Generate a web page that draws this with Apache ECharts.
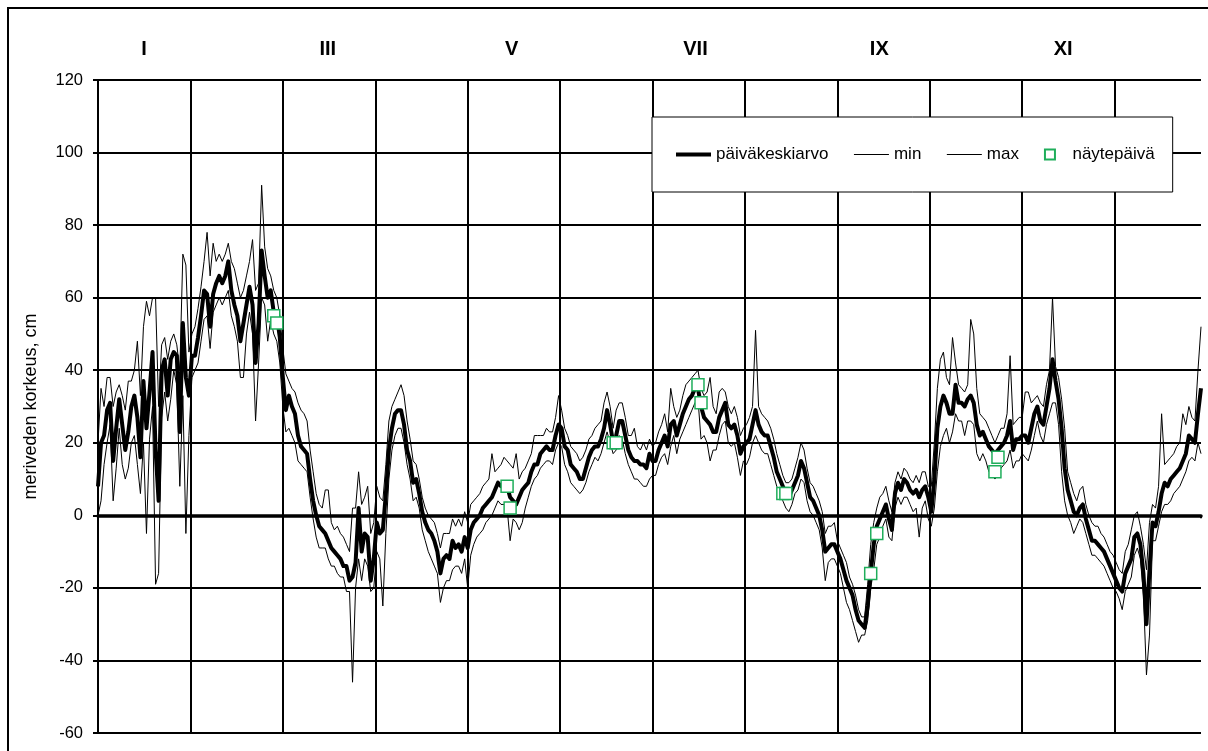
<!DOCTYPE html>
<html>
<head>
<meta charset="utf-8">
<script src="https://cdn.jsdelivr.net/npm/echarts@6/dist/echarts.min.js"></script>
<style>
html,body{margin:0;padding:0;background:#fff;}
#chart{width:1208px;height:751px;}
</style>
</head>
<body>
<div id="chart"></div>
<script>
// Top month labels (only odd months are labelled in the original)
const monthLabels = ['I','','III','','V','','VII','','IX','','XI',''];
const yTicks = [-60,-40,-20,0,20,40,60,80,100,120];

// Daily mean sea level (päiväkeskiarvo), day index 0..364
const meanVals = [
8,20,22,29,31,15,24,32,25,18,
23,30,33,27,16,37,24,34,45,18,
4,40,43,33,43,45,44,23,53,38,
33,44,44,49,55,62,61,52,61,64,
66,64,66,70,62,58,55,48,53,58,
63,58,42,53,73,66,60,62,56,55,
49,38,29,33,30,28,22,19,18,17,
10,4,0,-3,-4,-5,-7,-9,-10,-11,
-12,-14,-14,-18,-17,-13,2,-10,-5,-6,
-18,-12,-2,-5,-4,6,18,24,28,29,
29,25,18,15,9,10,6,1,-2,-4,
-5,-7,-10,-16,-12,-11,-12,-7,-9,-8,
-10,-6,-9,-4,-2,-1,0,2,3,4,
5,7,9,8,8,8,5,4,3,5,
7,8,9,12,14,14,17,18,19,18,
18,22,25,24,19,18,14,13,12,10,
10,13,16,18,19,19,21,24,29,25,
20,22,26,26,22,18,16,15,15,14,
14,13,17,15,15,18,20,22,19,25,
26,22,25,28,30,32,33,35,35,30,
27,26,25,23,23,27,29,31,25,24,
25,22,17,19,20,21,25,29,25,23,
22,22,19,16,12,10,8,6,5,7,
9,11,15,13,9,5,4,2,0,-4,
-10,-9,-8,-8,-10,-12,-15,-18,-20,-22,
-26,-29,-30,-31,-25,-16,-8,-3,-1,1,
3,-1,-4,6,9,7,10,9,7,6,
7,5,7,8,5,1,10,24,30,33,
31,28,28,36,31,31,30,32,33,31,
25,22,23,21,19,18,17,18,19,20,
22,26,18,21,21,22,22,20,24,28,
30,26,25,30,35,43,37,32,24,13,
7,4,1,0,2,3,-1,-4,-7,-7,
-8,-9,-10,-12,-14,-16,-18,-20,-21,-16,
-14,-12,-6,-5,-8,-16,-30,-15,-2,-3,
1,6,9,8,10,11,12,13,15,17,
22,21,20,28,35
];

// Daily minimum
const minVals = [
0,4,14,20,25,4,13,24,14,10,
13,20,22,14,6,20,-5,21,30,-19,
-16,27,34,26,32,40,36,8,33,-5,
22,38,40,42,48,54,55,46,56,58,
60,58,60,62,55,52,48,38,38,50,
56,50,26,42,60,58,48,54,50,48,
42,30,23,24,22,20,15,14,13,12,
5,-1,-6,-9,-9,-9,-12,-14,-14,-16,
-17,-17,-21,-21,-46,-20,-12,-18,-12,-14,
-21,-20,-10,-12,-25,-5,10,18,22,24,
24,20,14,10,4,5,2,-4,-7,-10,
-12,-14,-16,-24,-20,-18,-18,-15,-14,-14,
-16,-12,-20,-11,-8,-6,-5,-4,-2,-1,
0,2,4,3,3,2,-7,-1,-2,-4,
-2,2,5,8,10,11,13,14,15,15,
14,18,20,19,14,12,9,8,7,6,
7,9,12,14,16,15,17,20,23,20,
17,18,22,21,17,14,12,10,10,9,
8,8,10,11,11,14,16,17,14,19,
22,17,21,23,25,27,29,31,32,21,
22,20,15,18,18,22,25,26,20,19,
20,16,11,15,14,16,20,22,20,18,
17,17,14,11,8,6,4,2,1,3,
6,7,10,9,4,1,0,-2,-4,-9,
-18,-13,-12,-12,-14,-16,-20,-24,-26,-29,
-32,-35,-33,-33,-29,-20,-15,-8,-6,-3,
-1,-6,-7,2,5,3,5,5,3,1,
2,-6,2,4,-1,-3,2,12,19,22,
24,20,23,28,26,26,22,26,26,25,
17,15,17,15,12,11,10,11,13,14,
15,18,13,15,15,17,16,15,18,22,
26,22,20,25,28,31,31,25,12,4,
0,-2,-5,-3,-1,-2,-5,-8,-11,-11,
-12,-13,-14,-16,-18,-20,-21,-23,-26,-21,
-19,-17,-11,-9,-12,-22,-44,-33,-7,-7,
-3,1,3,3,4,6,7,8,10,12,
15,16,15,20,17
];

// Daily maximum
const maxVals = [
20,35,30,38,38,30,34,36,33,29,
37,37,40,48,33,52,59,55,60,60,
30,47,49,43,48,50,47,40,72,69,
45,50,52,57,63,70,78,66,75,70,
72,70,72,75,70,68,64,60,62,66,
70,76,62,64,91,74,68,66,62,60,
55,46,39,37,35,34,31,29,28,26,
18,12,6,3,2,7,7,-2,-4,-3,
-5,-6,-8,-10,2,2,12,3,5,8,
-5,-2,8,5,4,14,26,30,32,34,
36,33,26,21,15,14,10,5,2,0,
-1,-2,-5,-9,-5,-5,-5,-1,-3,-1,
-3,1,-2,3,4,5,6,8,9,10,
17,12,13,14,16,15,14,13,17,10,
12,13,15,17,22,22,22,22,24,23,
23,27,33,29,24,22,19,18,17,15,
16,18,21,22,24,25,26,31,34,30,
24,29,31,31,27,22,22,24,19,18,
20,18,21,19,20,23,25,28,23,35,
30,27,29,33,36,37,38,39,40,35,
33,34,38,30,28,34,35,34,30,28,
30,27,22,24,25,27,30,51,30,28,
27,26,24,21,17,14,11,9,9,10,
13,16,20,18,13,9,8,6,4,1,
-5,-3,-3,-2,-7,-9,-11,-13,-17,-19,
-22,-26,-28,-28,-19,-8,-2,2,5,6,
8,4,1,9,12,10,13,12,10,9,
11,9,12,12,8,8,20,35,43,45,
38,36,49,42,36,35,34,36,54,50,
35,28,27,26,24,22,20,22,24,24,
28,44,25,26,27,27,34,34,31,32,
33,31,30,36,40,60,41,38,32,24,
12,9,6,4,7,8,3,0,-2,-3,
-3,-5,-6,-8,-10,-11,-13,-15,-16,-10,
-8,-4,0,1,-3,-8,-15,-2,3,2,
8,28,14,15,16,17,19,20,28,25,
30,27,26,40,52
];

// Sampling days (näytepäivä): day index and sea level
const sampleDays = [58,59,135,136,170,171,198,199,226,227,255,257,296,297];
const sampleVals = [55,53,8,2,20,20,36,31,6,6,-16,-5,12,16];

const FONT = "'Liberation Sans', Arial, sans-serif";
const monthStep = 30.5;

const toPairs = arr => arr.map((v, i) => [i, v]);

const chart = echarts.init(document.getElementById('chart'), null, {renderer: 'canvas'});
chart.setOption({
  animation: false,
  backgroundColor: '#fff',
  textStyle: {fontFamily: FONT, color: '#000'},
  grid: {left: 98, top: 80, right: 7, bottom: 18, containLabel: false},
  graphic: [{
    type: 'rect', silent: true, z: 100,
    shape: {x: 8, y: 8, width: 1400, height: 900},
    style: {fill: 'none', stroke: '#000', lineWidth: 2}
  }],
  legend: {
    left: 652, top: 117,
    orient: 'horizontal',
    padding: [29, 18, 29, 22],
    backgroundColor: '#fff',
    borderColor: '#000', borderWidth: 1,
    itemWidth: 35, itemHeight: 10, itemGap: 25,
    symbolKeepAspect: true,
    textStyle: {fontSize: 17, color: '#000', fontFamily: FONT},
    data: [
      {name: 'päiväkeskiarvo', itemStyle: {opacity: 0}, lineStyle: {width: 4, color: '#000'}},
      {name: 'min', itemStyle: {opacity: 0}, lineStyle: {width: 1, color: '#000'}},
      {name: 'max', itemStyle: {opacity: 0}, lineStyle: {width: 1, color: '#000'}},
      {name: 'näytepäivä', icon: 'path://M0,0H10V10H0Z'}
    ]
  },
  xAxis: [{
    type: 'value', min: 0, max: meanVals.length - 1, interval: monthStep,
    axisLine: {show: true, onZero: true, lineStyle: {color: '#000', width: 3.5}},
    axisTick: {show: true, length: 3, lineStyle: {color: '#000', width: 2}},
    axisLabel: {show: false},
    splitLine: {show: true, showMaxLine: false, lineStyle: {color: '#000', width: 2}}
  }, {
    type: 'category', position: 'top', data: monthLabels, boundaryGap: true,
    axisLine: {show: false}, axisTick: {show: false},
    axisLabel: {show: true, interval: 0, margin: 21, fontSize: 20, fontWeight: 'bold', color: '#000', fontFamily: FONT},
    splitLine: {show: false}
  }],
  yAxis: {
    type: 'value', min: yTicks[0], max: yTicks[yTicks.length - 1], interval: 20,
    name: 'meriveden korkeus, cm', nameLocation: 'middle', nameGap: 58,
    nameTextStyle: {fontSize: 18, color: '#000', fontFamily: FONT},
    axisLine: {show: true, onZero: false, lineStyle: {color: '#000', width: 2}},
    axisTick: {show: true, length: 5, lineStyle: {color: '#000', width: 2}},
    axisLabel: {margin: 15, fontSize: 16.5, color: '#000', fontFamily: FONT},
    splitLine: {show: true, lineStyle: {color: '#000', width: 2}}
  },
  series: [
    {name: 'min', type: 'line', data: toPairs(minVals), symbol: 'none',
     lineStyle: {color: '#000', width: 1}, itemStyle: {color: '#000'}, z: 3},
    {name: 'max', type: 'line', data: toPairs(maxVals), symbol: 'none',
     lineStyle: {color: '#000', width: 1}, itemStyle: {color: '#000'}, z: 3},
    {name: 'päiväkeskiarvo', type: 'line', data: toPairs(meanVals), symbol: 'none',
     lineStyle: {color: '#000', width: 4, join: 'round'}, itemStyle: {color: '#000'}, z: 4},
    {name: 'näytepäivä', type: 'scatter', xAxisIndex: 0,
     data: sampleDays.map((d, i) => [d, sampleVals[i]]),
     symbol: 'rect', symbolSize: 12, symbolKeepAspect: true,
     itemStyle: {color: '#fff', borderColor: '#1fae5b', borderWidth: 1.5, opacity: 1}, z: 5}
  ]
});
</script>
</body>
</html>
